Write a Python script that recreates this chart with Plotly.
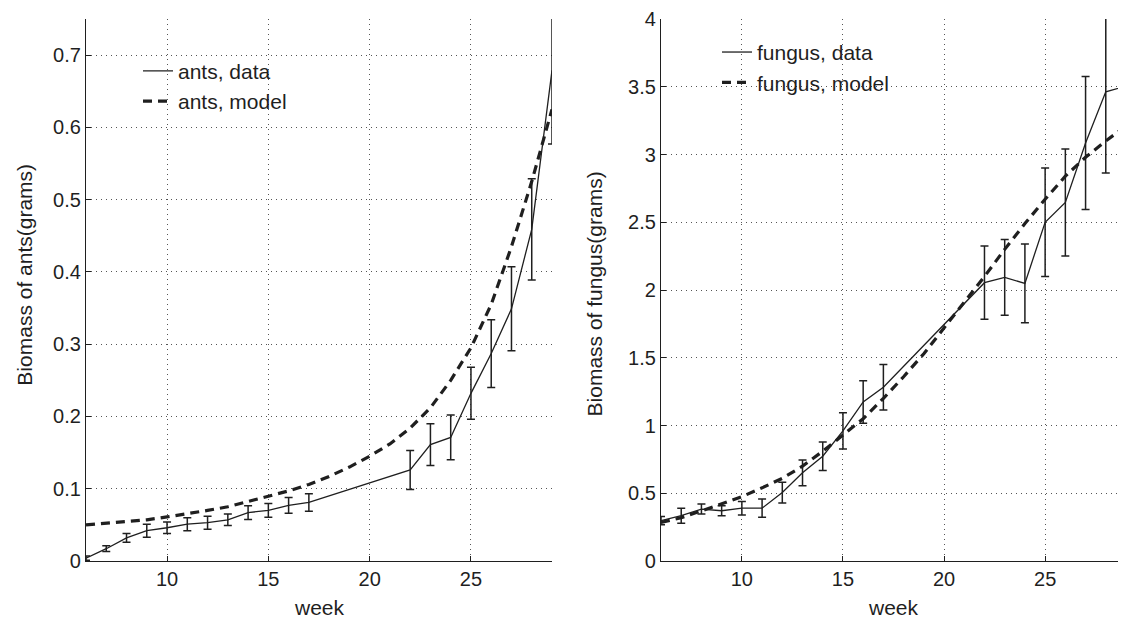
import plotly.graph_objects as go

# ---------------- data ----------------
weeks_data = [6, 7, 8, 9, 10, 11, 12, 13, 14, 15, 16, 17, 22, 23, 24, 25, 26, 27, 28, 29]
weeks_model = list(range(6, 30))

ants_data = [0.004, 0.017, 0.032, 0.042, 0.046, 0.051, 0.053, 0.057, 0.067, 0.070,
             0.077, 0.081, 0.126, 0.161, 0.171, 0.232, 0.287, 0.349, 0.459, 0.679]
ants_err = [0.003, 0.004, 0.006, 0.009, 0.008, 0.009, 0.009, 0.008, 0.0095, 0.0095,
            0.011, 0.012, 0.027, 0.029, 0.031, 0.036, 0.047, 0.058, 0.070, 0.102]
ants_model = [0.050, 0.052, 0.054, 0.057, 0.061, 0.065, 0.070, 0.075, 0.082, 0.089,
              0.097, 0.106, 0.117, 0.130, 0.145, 0.162, 0.184, 0.212, 0.250, 0.295,
              0.355, 0.435, 0.525, 0.625]

fungus_data = [0.298, 0.334, 0.383, 0.371, 0.390, 0.390, 0.505, 0.651, 0.773, 0.960,
               1.174, 1.283, 2.054, 2.093, 2.049, 2.500, 2.646, 3.085, 3.463, 3.505]
fungus_err = [0.030, 0.055, 0.037, 0.037, 0.050, 0.067, 0.077, 0.095, 0.105, 0.134,
              0.157, 0.168, 0.270, 0.280, 0.290, 0.400, 0.395, 0.490, 0.600, 0.570]
fungus_model = [0.285, 0.320, 0.370, 0.420, 0.475, 0.540, 0.610, 0.700, 0.810, 0.930,
                1.050, 1.200, 1.360, 1.530, 1.720, 1.910, 2.100, 2.300, 2.490, 2.670,
                2.840, 2.980, 3.100, 3.210]

x_ticks = [10, 15, 20, 25]
ants_yticks = [0, 0.1, 0.2, 0.3, 0.4, 0.5, 0.6, 0.7]
ants_yticktext = ["0", "0.1", "0.2", "0.3", "0.4", "0.5", "0.6", "0.7"]
fungus_yticks = [0, 0.5, 1, 1.5, 2, 2.5, 3, 3.5, 4]
fungus_yticktext = ["0", "0.5", "1", "1.5", "2", "2.5", "3", "3.5", "4"]

# ---------------- style ----------------
FONT = "Liberation Sans, Arial, sans-serif"
INK = "#1f1f1f"
DATA_LINE = dict(color=INK, width=1.3)
MODEL_LINE = dict(color=INK, width=3.2, dash="9px,6px")
ERR = dict(type="data", visible=True, color=INK, thickness=1.5, width=4)

# the page body adds an 8px offset; layout positions below are in window pixels
OFF = 8
W, H = 1126 - OFF, 623 - OFF
MT, MB = 14 - OFF, 623 - 561
ML, MR = 0, 0
PH = H - MT - MB


def px(x):
    return (x - OFF) / W


def py(y):
    return 1 - (y - OFF - MT) / PH


fig = go.Figure()

fig.add_trace(go.Scatter(x=weeks_data, y=ants_data, mode="lines", name="ants, data",
                         line=DATA_LINE, error_y=dict(array=ants_err, **ERR),
                         xaxis="x", yaxis="y", legend="legend"))
fig.add_trace(go.Scatter(x=weeks_model, y=ants_model, mode="lines", name="ants, model",
                         line=MODEL_LINE, xaxis="x", yaxis="y", legend="legend"))
fig.add_trace(go.Scatter(x=weeks_data, y=fungus_data, mode="lines", name="fungus, data",
                         line=DATA_LINE, error_y=dict(array=fungus_err, **ERR),
                         xaxis="x2", yaxis="y2", legend="legend2"))
fig.add_trace(go.Scatter(x=weeks_model, y=fungus_model, mode="lines", name="fungus, model",
                         line=MODEL_LINE, xaxis="x2", yaxis="y2", legend="legend2"))

common_x = dict(range=[6, 29], tickmode="array", tickvals=x_ticks,
                ticks="inside", ticklen=5, tickcolor=INK, showline=True, linecolor=INK,
                linewidth=1.3, showgrid=True, gridcolor="#555", griddash="1px,4px",
                gridwidth=1, zeroline=False, mirror=False, ticklabeloverflow="allow",
                tickfont=dict(family=FONT, size=20, color=INK))
common_y = dict(ticks="inside", ticklen=5, tickcolor=INK, showline=True, linecolor=INK,
                linewidth=1.3, showgrid=True, gridcolor="#555", griddash="1px,4px",
                gridwidth=1, zeroline=False, mirror=False, tickmode="array",
                ticklabeloverflow="allow",
                tickfont=dict(family=FONT, size=20, color=INK))

fig.update_layout(
    width=W, height=H,
    margin=dict(l=ML, r=MR, t=MT, b=MB),
    paper_bgcolor="white", plot_bgcolor="white",
    font=dict(family=FONT, size=20, color=INK),
    xaxis=dict(domain=[px(86), px(552)], anchor="y", **common_x),
    yaxis=dict(domain=[0, 1], anchor="x", range=[0, 0.75], tickvals=ants_yticks,
               ticktext=ants_yticktext, **common_y),
    xaxis2=dict(domain=[px(661), 1.0], anchor="y2", **common_x),
    yaxis2=dict(domain=[0, 1], anchor="x2", range=[0, 4], tickvals=fungus_yticks,
                ticktext=fungus_yticktext, **common_y),
    legend=dict(x=px(138), y=py(46), xanchor="left", yanchor="top",
                bgcolor="rgba(0,0,0,0)", borderwidth=0,
                font=dict(family=FONT, size=21, color=INK), tracegroupgap=0),
    legend2=dict(x=px(717), y=py(27), xanchor="left", yanchor="top",
                 bgcolor="rgba(0,0,0,0)", borderwidth=0,
                 font=dict(family=FONT, size=21, color=INK), tracegroupgap=0),
    showlegend=True,
)

annots = [
    dict(text="week", x=px(319), y=py(608)),
    dict(text="week", x=px(893), y=py(608)),
    dict(text="Biomass of ants(grams)", x=px(25), y=py(272), textangle=-90),
    dict(text="Biomass of fungus(grams)", x=px(594), y=py(292), textangle=-90),
]
for a in annots:
    fig.add_annotation(xref="paper", yref="paper", showarrow=False,
                       xanchor="center", yanchor="middle",
                       font=dict(family=FONT, size=21, color=INK), **a)

fig.write_html("out.html")
